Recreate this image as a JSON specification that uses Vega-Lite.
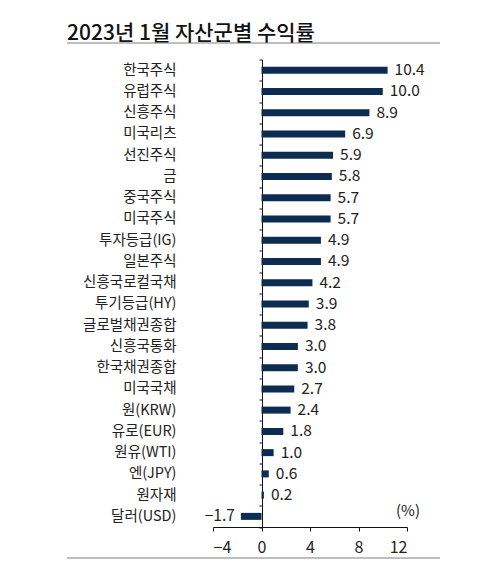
{
  "$schema": "https://vega.github.io/schema/vega-lite/v6.json",
  "autosize": "none",
  "width": 194,
  "height": 467.5,
  "padding": {"left": 213, "top": 59.5, "right": 96, "bottom": 36},
  "background": "white",
  "view": {"stroke": null},
  "config": {
    "font": "Noto Sans CJK KR",
    "text": {"font": "Noto Sans CJK KR"}
  },
  "title": {
    "text": "2023년 1월 자산군별 수익률",
    "anchor": "start",
    "frame": "group",
    "dx": -146,
    "offset": -2,
    "fontSize": 21,
    "fontWeight": 500,
    "color": "#111"
  },
  "data": {
    "values": [
      {"asset": "한국주식", "ret": 10.4},
      {"asset": "유럽주식", "ret": 10.0},
      {"asset": "신흥주식", "ret": 8.9},
      {"asset": "미국리츠", "ret": 6.9},
      {"asset": "선진주식", "ret": 5.9},
      {"asset": "금", "ret": 5.8},
      {"asset": "중국주식", "ret": 5.7},
      {"asset": "미국주식", "ret": 5.7},
      {"asset": "투자등급(IG)", "ret": 4.9},
      {"asset": "일본주식", "ret": 4.9},
      {"asset": "신흥국로컬국채", "ret": 4.2},
      {"asset": "투기등급(HY)", "ret": 3.9},
      {"asset": "글로벌채권종합", "ret": 3.8},
      {"asset": "신흥국통화", "ret": 3.0},
      {"asset": "한국채권종합", "ret": 3.0},
      {"asset": "미국국채", "ret": 2.7},
      {"asset": "원(KRW)", "ret": 2.4},
      {"asset": "유로(EUR)", "ret": 1.8},
      {"asset": "원유(WTI)", "ret": 1.0},
      {"asset": "엔(JPY)", "ret": 0.6},
      {"asset": "원자재", "ret": 0.2},
      {"asset": "달러(USD)", "ret": -1.7}
    ]
  },
  "encoding": {
    "y": {
      "field": "asset",
      "type": "nominal",
      "sort": null,
      "scale": {"paddingInner": 0, "paddingOuter": 0},
      "axis": {
        "title": null,
        "offset": -49,
        "tickBand": "extent",
        "tickSize": 3,
        "tickColor": "#111",
        "domainColor": "#111",
        "labelPadding": 83,
        "labelFontSize": 14.5,
        "labelColor": "#222",
        "labelFont": "Noto Sans CJK KR"
      }
    },
    "x": {
      "field": "ret",
      "type": "quantitative",
      "scale": {"domain": [-4, 12], "nice": false},
      "axis": {
        "values": [-4, 0, 4, 8, 12],
        "grid": false,
        "tickSize": 4,
        "tickColor": "#111",
        "domainColor": "#111",
        "labelPadding": 8,
        "labelFontSize": 16,
        "labelColor": "#222",
        "title": "(%)",
        "titleX": 194.5,
        "titleY": -17,
        "titleAlign": "center",
        "titleBaseline": "middle",
        "titleFontSize": 15,
        "titleFontWeight": "normal",
        "titleColor": "#222"
      }
    }
  },
  "layer": [
    {
      "mark": {"type": "bar", "size": 7, "color": "#0c2c52"}
    },
    {
      "transform": [{"filter": "datum.ret >= 0"}],
      "mark": {"type": "text", "align": "left", "dx": 7, "fontSize": 15.5, "color": "#222"},
      "encoding": {"text": {"field": "ret", "type": "quantitative", "format": ".1f"}}
    },
    {
      "transform": [{"filter": "datum.ret < 0"}],
      "mark": {"type": "text", "align": "right", "dx": -6, "fontSize": 15.5, "color": "#222"},
      "encoding": {"text": {"field": "ret", "type": "quantitative", "format": ".1f"}}
    },
    {
      "data": {"values": [{"pos": "top"}]},
      "mark": {"type": "rule", "color": "#a8a8a8", "strokeWidth": 1.5},
      "encoding": {
        "x": {"value": -146},
        "x2": {"value": 227},
        "y": {"value": -16.5}
      }
    },
    {
      "data": {"values": [{"pos": "bottom"}]},
      "mark": {"type": "rule", "color": "#a8a8a8", "strokeWidth": 1.5},
      "encoding": {
        "x": {"value": -146},
        "x2": {"value": 227},
        "y": {"value": 498.5}
      }
    }
  ]
}
